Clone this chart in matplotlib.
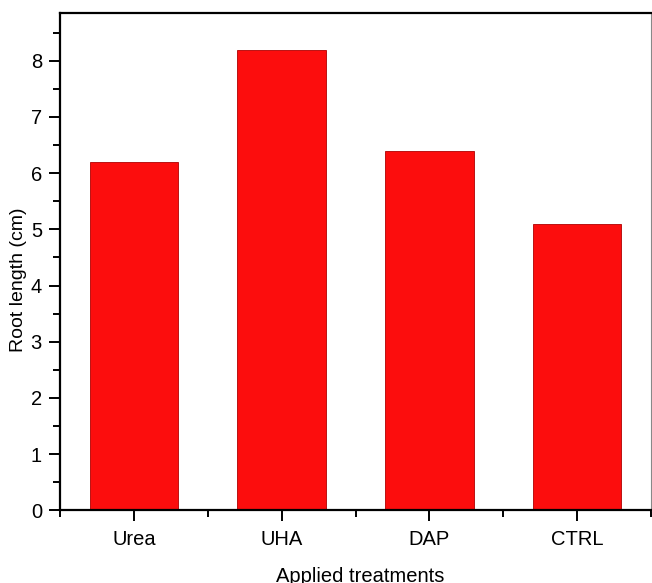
import matplotlib
matplotlib.use("Agg")
import matplotlib.pyplot as plt
from matplotlib.ticker import MultipleLocator

treatments = ["Urea", "UHA", "DAP", "CTRL"]
root_length = [6.2, 8.2, 6.4, 5.1]

plt.rcParams["font.family"] = ["Liberation Sans", "DejaVu Sans"]

fig = plt.figure(figsize=(6.52, 5.83), dpi=100)
ax = fig.add_axes([0.092, 0.1247, 0.9065, 0.853])

positions = list(range(1, len(treatments) + 1))
ax.bar(positions, root_length, width=0.6, color="#fc0d0d",
       edgecolor="#b00000", linewidth=0.6, zorder=2)

ax.set_xlim(0.5, 4.5)
ax.set_ylim(0, 8.85)
ax.set_xticks(positions)
ax.set_xticklabels(treatments)
ax.xaxis.set_minor_locator(MultipleLocator(0.5))
ax.yaxis.set_major_locator(MultipleLocator(1))
ax.yaxis.set_minor_locator(MultipleLocator(0.5))

ax.tick_params(axis="both", which="major", direction="out", length=8,
               width=1.4, labelsize=14.5, pad=5)
ax.tick_params(axis="x", which="major", pad=6)
ax.tick_params(axis="both", which="minor", direction="out", length=5,
               width=1.4)
ax.tick_params(axis="x", which="both", top=False)
ax.tick_params(axis="y", which="both", right=False)

for s in ax.spines.values():
    s.set_linewidth(1.6)
ax.spines["right"].set_linewidth(0.8)
ax.spines["right"].set_color("#888888")

ax.set_ylabel("Root length (cm)", fontsize=14)
ax.yaxis.label.set_va("center")
ax.yaxis.set_label_coords(-0.071, 0.463)

ax.set_xlabel("Applied treatments", fontsize=14.5)
ax.xaxis.label.set_va("top")
ax.xaxis.set_label_coords(0.508, -0.115)

fig.savefig("out.png", dpi=100)
